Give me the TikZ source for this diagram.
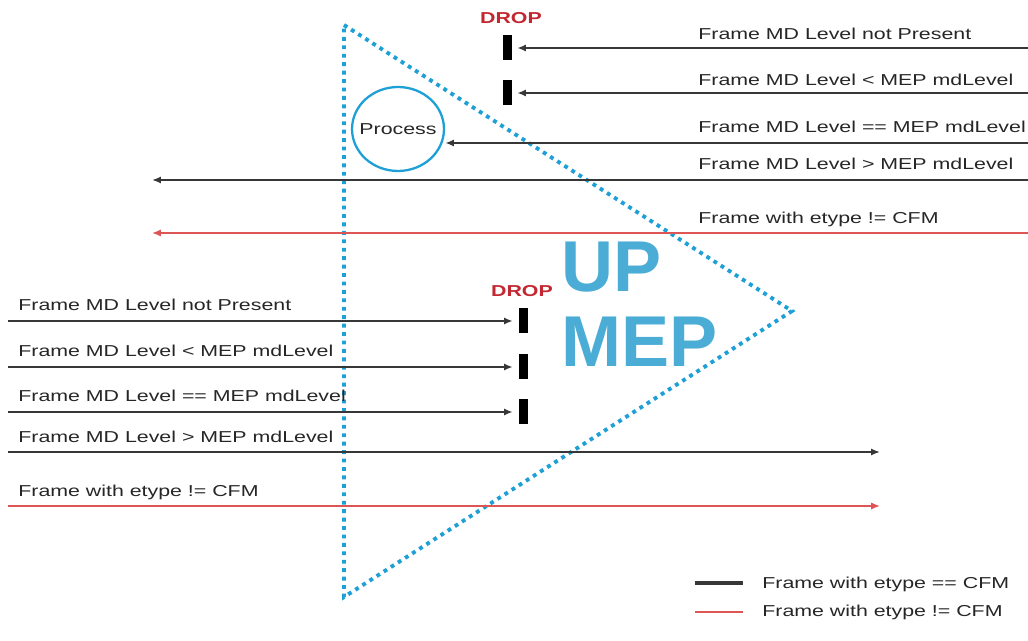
\documentclass[tikz,border=0pt]{standalone}
\usepackage{fontspec}
\setmainfont{Liberation Sans}
\newfontfamily\lblfont{Liberation Sans}[FakeStretch=1.35]
\usetikzlibrary{arrows.meta,shapes.geometric}
\definecolor{mepblue}{RGB}{75,172,214}
\definecolor{dotblue}{RGB}{30,160,215}
\definecolor{droprd}{RGB}{195,40,50}
\definecolor{cfmred}{RGB}{222,85,85}
\definecolor{cfmgray}{RGB}{55,55,55}
\begin{document}
\begin{tikzpicture}[x=0.02cm,y=-0.02cm,>={Latex[length=5pt,width=4pt]},
    lbl/.style={anchor=base west,inner sep=0,text=black!85,font=\lblfont\fontsize{9}{11}\selectfont},
    cfm/.style={cfmgray,line width=1.1pt},
    noncfm/.style={cfmred,line width=0.8pt},
    dropbar/.style={fill=black,inner sep=0,minimum width=0.18cm,minimum height=0.5cm},
    droptxt/.style={droprd,anchor=base,inner sep=0,font=\lblfont\bfseries\fontsize{9}{11}\selectfont},
    bigtxt/.style={mepblue,anchor=base west,inner sep=0,font=\bfseries\fontsize{41}{43}\selectfont}]
                \useasboundingbox (0,0) rectangle (1028,641);
                % the MEP
                \draw[dotblue,line width=2.2pt,dash pattern=on 2.2pt off 2.6pt]
                    (344,25) -- (792,311) -- (344,597) -- cycle;
                \node[bigtxt] (up) at (561,292) {UP};
                \node[bigtxt] (mep) at (561,367) {MEP};
                \node[ellipse,draw=dotblue,line width=1.3pt,inner sep=0,minimum width=1.84cm,minimum height=1.68cm,
                    text=black!85,font=\lblfont\fontsize{9}{11}\selectfont] (proc) at (398,129) {\makebox[0pt]{Process}};
                % frames coming in from the right
                \node[droptxt] (droptop) at (511,24) {DROP};
                \node[dropbar] (top1) at (507,48) {};
                \node[dropbar] (top2) at (507,93) {};
                \coordinate (in1) at (1028,48);
                \coordinate (in2) at (1028,93);
                \coordinate (in3) at (1028,143);
                \coordinate (in4) at (1028,180);
                \coordinate (in5) at (1028,233);
                \coordinate (out4) at (152,180);
                \coordinate (out5) at (152,233);
                \draw[cfm,->,shorten >=3pt] (in1) -- (top1.east);
                \draw[cfm,->,shorten >=3pt] (in2) -- (top2.east);
                \draw[cfm,->] (in3) -- (in3 -| proc.east);
                \draw[cfm,->] (in4) -- (out4);
                \draw[noncfm,->] (in5) -- (out5);
                \node[lbl] (tlab1) at (698,40) {Frame MD Level not Present};
                \node[lbl] (tlab2) at (698,86) {Frame MD Level < MEP mdLevel};
                \node[lbl] (tlab3) at (698,133) {Frame MD Level == MEP mdLevel};
                \node[lbl] (tlab4) at (698,170) {Frame MD Level > MEP mdLevel};
                \node[lbl] (tlab5) at (698,224) {Frame with etype != CFM};
                % frames coming in from the left
                \node[droptxt] (dropbot) at (522,297) {DROP};
                \node[dropbar] (bot1) at (523,321) {};
                \node[dropbar] (bot2) at (523,367) {};
                \node[dropbar] (bot3) at (523,412) {};
                \coordinate (src1) at (8,321);
                \coordinate (src2) at (8,367);
                \coordinate (src3) at (8,412);
                \coordinate (src4) at (8,452);
                \coordinate (src5) at (8,506);
                \coordinate (dst4) at (880,452);
                \coordinate (dst5) at (880,506);
                \draw[cfm,->,shorten >=3pt] (src1) -- (bot1.west);
                \draw[cfm,->,shorten >=3pt] (src2) -- (bot2.west);
                \draw[cfm,->,shorten >=3pt] (src3) -- (bot3.west);
                \draw[cfm,->] (src4) -- (dst4);
                \draw[noncfm,->] (src5) -- (dst5);
                \node[lbl] (blab1) at (18,311) {Frame MD Level not Present};
                \node[lbl] (blab2) at (18,357) {Frame MD Level < MEP mdLevel};
                \node[lbl] (blab3) at (18,402) {Frame MD Level == MEP mdLevel};
                \node[lbl] (blab4) at (18,443) {Frame MD Level > MEP mdLevel};
                \node[lbl] (blab5) at (18,497) {Frame with etype != CFM};
                % legend
                \coordinate (key1a) at (695,583);
                \coordinate (key1b) at (743,583);
                \coordinate (key2a) at (695,612);
                \coordinate (key2b) at (743,612);
                \draw[cfm,line width=1.8pt] (key1a) -- (key1b);
                \draw[noncfm,line width=1.1pt] (key2a) -- (key2b);
                \node[lbl] (key1) at (762,589) {Frame with etype == CFM};
                \node[lbl] (key2) at (762,617) {Frame with etype != CFM};
            \end{tikzpicture}
\end{document}
